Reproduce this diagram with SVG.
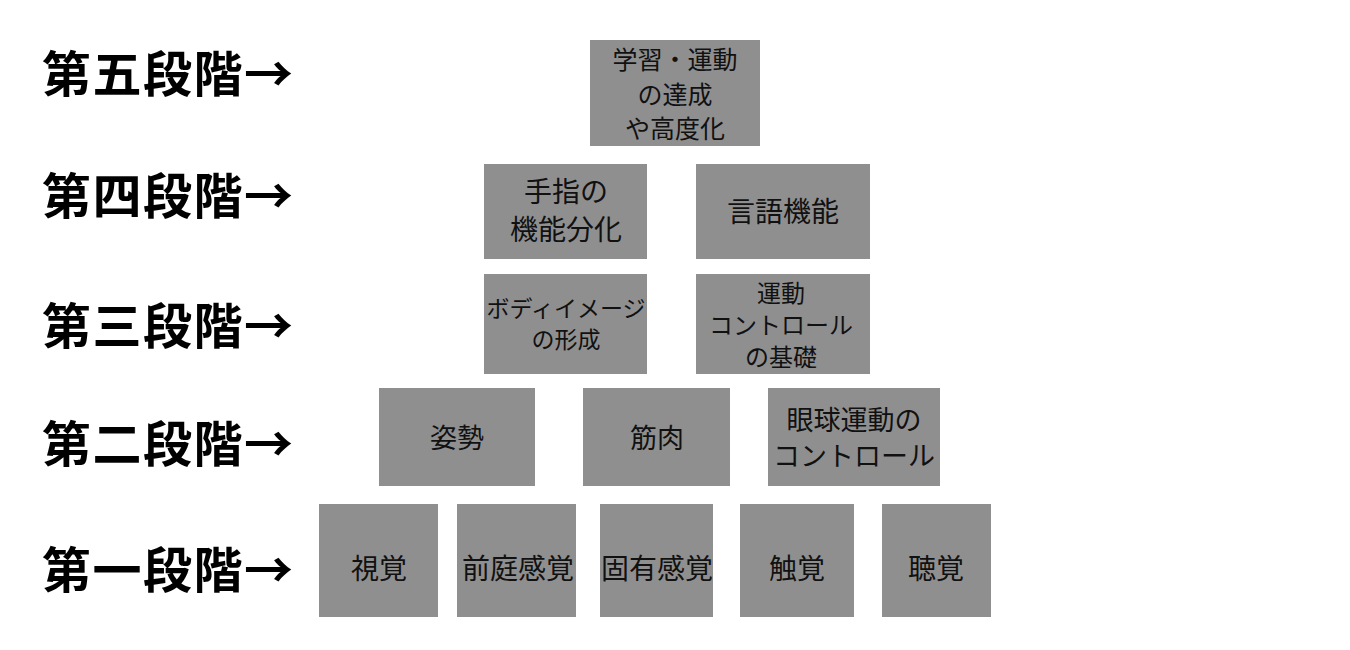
<svg xmlns="http://www.w3.org/2000/svg" width="1350" height="650" viewBox="0 0 1350 650">
<style>
.box{fill:#8f8f8f;}
.lbl{font-family:"Noto Sans CJK JP","Noto Sans CJK SC",sans-serif;font-weight:bold;font-size:49px;letter-spacing:1.5px;fill:#000;dominant-baseline:central;}
.t{font-family:"Noto Sans CJK JP","Noto Sans CJK SC",sans-serif;fill:#111;text-anchor:middle;dominant-baseline:central;}
</style>
<rect width="1350" height="650" fill="#fff"/>
<g id="labels">
<text class="lbl" x="42" y="70">第五段階→</text>
<text class="lbl" x="42" y="192">第四段階→</text>
<text class="lbl" x="42" y="322">第三段階→</text>
<text class="lbl" x="42" y="440">第二段階→</text>
<text class="lbl" x="42" y="566">第一段階→</text>
</g>
<g id="connectors"></g>
<g id="n5"><rect class="box" x="590" y="40" width="170" height="106"/>
<text class="t" font-size="25" x="675" y="58">学習・運動</text>
<text class="t" font-size="25" x="675" y="93">の達成</text>
<text class="t" font-size="25" x="675" y="127">や高度化</text></g>
<g id="n4a"><rect class="box" x="484" y="164" width="163" height="95"/>
<text class="t" font-size="28" x="566" y="190">手指の</text>
<text class="t" font-size="28" x="566" y="228">機能分化</text></g>
<g id="n4b"><rect class="box" x="696" y="164" width="174" height="95"/>
<text class="t" font-size="28" x="783" y="210">言語機能</text></g>
<g id="n3a"><rect class="box" x="484" y="274" width="163" height="100"/>
<text class="t" font-size="23" x="566" y="307">ボディイメージ</text>
<text class="t" font-size="23" x="566" y="338">の形成</text></g>
<g id="n3b"><rect class="box" x="696" y="274" width="174" height="100"/>
<text class="t" font-size="24" x="781" y="291">運動</text>
<text class="t" font-size="24" x="781" y="323">コントロール</text>
<text class="t" font-size="24" x="781" y="355">の基礎</text></g>
<g id="n2a"><rect class="box" x="379" y="388" width="156" height="98"/>
<text class="t" font-size="27" x="457" y="436">姿勢</text></g>
<g id="n2b"><rect class="box" x="583" y="388" width="147" height="98"/>
<text class="t" font-size="27" x="657" y="436">筋肉</text></g>
<g id="n2c"><rect class="box" x="768" y="388" width="172" height="98"/>
<text class="t" font-size="27" x="854" y="418">眼球運動の</text>
<text class="t" font-size="27" x="854" y="454">コントロール</text></g>
<g id="n1a"><rect class="box" x="319" y="504" width="119" height="113"/>
<text class="t" font-size="28" x="379" y="567">視覚</text></g>
<g id="n1b"><rect class="box" x="457" y="504" width="119" height="113"/>
<text class="t" font-size="28" x="518" y="567">前庭感覚</text></g>
<g id="n1c"><rect class="box" x="600" y="504" width="113" height="113"/>
<text class="t" font-size="28" x="657" y="567">固有感覚</text></g>
<g id="n1d"><rect class="box" x="740" y="504" width="114" height="113"/>
<text class="t" font-size="28" x="797" y="567">触覚</text></g>
<g id="n1e"><rect class="box" x="882" y="504" width="109" height="113"/>
<text class="t" font-size="28" x="936" y="567">聴覚</text></g>
</svg>
